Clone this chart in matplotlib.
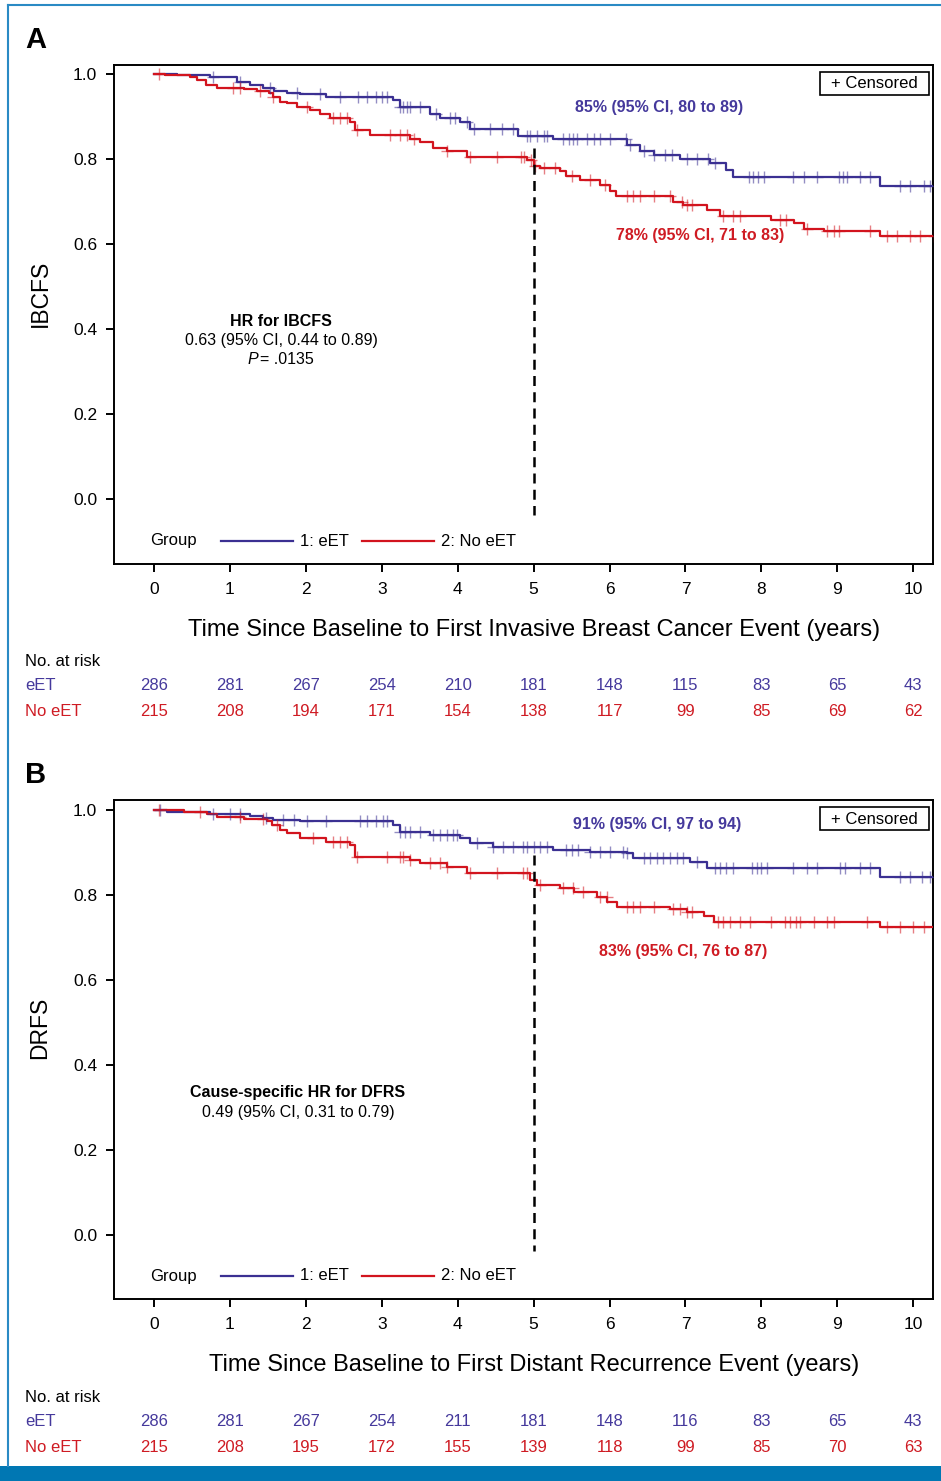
import numpy as np
import matplotlib
matplotlib.use("Agg")
import matplotlib.pyplot as plt
from matplotlib.lines import Line2D
from matplotlib.patches import Rectangle
from matplotlib.transforms import blended_transform_factory

plt.rcParams['font.family'] = ['Liberation Sans', 'DejaVu Sans']

W, H = 941, 1481
BLUE = '#3b3092'
RED = '#d2141e'
BLUE_TXT = '#45399c'
RED_TXT = '#cf1b23'
FRAME = '#2a8ac4'

# ---- data: panel A (IBCFS) ----
years = list(range(11))
a_eet_t = [0, 0.30, 0.74, 1.09, 1.26, 1.44, 1.58, 1.75, 1.92, 2.27, 3.15, 3.24, 3.64, 3.77,
           4.03, 4.16, 4.80, 5.26, 6.23, 6.40, 6.58, 6.93, 7.32, 7.54, 7.63, 9.56, 10.3]
a_eet_s = [1.0, 0.997, 0.992, 0.982, 0.974, 0.966, 0.960, 0.956, 0.952, 0.945, 0.939, 0.922, 0.907, 0.896,
           0.888, 0.870, 0.855, 0.846, 0.833, 0.820, 0.809, 0.800, 0.790, 0.774, 0.757, 0.737, 0.737]
a_eet_cens = [0.78, 1.13, 1.53, 1.88, 2.19, 2.45, 2.69, 2.80, 2.93, 3.00, 3.07, 3.24, 3.28, 3.33, 3.37,
              3.50, 3.72, 3.90, 3.96, 4.12, 4.21, 4.43, 4.58, 4.73, 4.91, 4.95, 5.04, 5.13, 5.17, 5.39,
              5.46, 5.52, 5.57, 5.70, 5.79, 5.87, 6.01, 6.21, 6.27, 6.45, 6.58, 6.73, 6.82, 7.02, 7.15,
              7.30, 7.39, 7.83, 7.89, 7.96, 8.03, 8.42, 8.56, 8.73, 9.02, 9.08, 9.13, 9.30, 9.43, 9.83,
              9.96, 10.14, 10.22]
a_no_t = [0, 0.15, 0.47, 0.56, 0.69, 0.83, 1.18, 1.35, 1.51, 1.57, 1.66, 1.75, 1.88, 2.06, 2.19, 2.32,
          2.58, 2.65, 2.85, 3.37, 3.50, 3.68, 3.86, 4.12, 4.91, 5.00, 5.08, 5.35, 5.43, 5.61, 5.87,
          6.00, 6.09, 6.84, 6.97, 7.28, 7.46, 8.12, 8.43, 8.56, 8.82, 9.56, 10.3]
a_no_s = [1.0, 0.998, 0.994, 0.985, 0.974, 0.966, 0.964, 0.961, 0.955, 0.947, 0.935, 0.931, 0.923, 0.915,
          0.907, 0.896, 0.888, 0.868, 0.856, 0.848, 0.840, 0.827, 0.820, 0.805, 0.798, 0.784, 0.779,
          0.771, 0.759, 0.751, 0.739, 0.724, 0.712, 0.698, 0.692, 0.680, 0.666, 0.657, 0.649, 0.636,
          0.630, 0.618, 0.618]
a_no_cens = [0.06, 1.04, 1.13, 1.40, 1.57, 2.01, 2.36, 2.45, 2.54, 2.67, 3.11, 3.24, 3.33, 3.42, 3.86,
             4.16, 4.52, 4.84, 4.87, 4.96, 5.02, 5.13, 5.28, 5.50, 5.74, 5.94, 6.23, 6.31, 6.40, 6.58,
             6.80, 6.95, 7.02, 7.08, 7.50, 7.63, 7.72, 8.25, 8.33, 8.60, 8.86, 8.95, 9.02, 9.43, 9.65,
             9.78, 9.96, 10.09, 10.27]
a_risk_eet = [286, 281, 267, 254, 210, 181, 148, 115, 83, 65, 43]
a_risk_no = [215, 208, 194, 171, 154, 138, 117, 99, 85, 69, 62]

# ---- data: panel B (DRFS) ----
b_eet_t = [0, 0.17, 0.74, 1.26, 1.44, 1.57, 1.92, 3.15, 3.24, 3.64, 4.03, 4.16, 4.47, 5.26, 5.74,
           6.23, 6.31, 7.06, 7.28, 9.56, 10.3]
b_eet_s = [1.0, 0.996, 0.991, 0.986, 0.980, 0.976, 0.973, 0.965, 0.949, 0.941, 0.933, 0.922, 0.914,
           0.906, 0.902, 0.898, 0.886, 0.878, 0.863, 0.842, 0.842]
b_eet_cens = [0.08, 0.78, 1.00, 1.13, 1.48, 1.70, 1.84, 2.01, 2.27, 2.71, 2.80, 2.93, 3.02, 3.07, 3.24,
              3.31, 3.37, 3.50, 3.68, 3.77, 3.86, 3.94, 3.99, 4.25, 4.47, 4.60, 4.73, 4.86, 4.91, 5.00,
              5.08, 5.17, 5.42, 5.50, 5.59, 5.74, 5.87, 6.01, 6.18, 6.23, 6.45, 6.53, 6.62, 6.71, 6.80,
              6.89, 6.97, 7.15, 7.39, 7.46, 7.54, 7.63, 7.87, 7.94, 8.00, 8.07, 8.42, 8.60, 8.73, 9.04,
              9.10, 9.30, 9.43, 9.83, 9.96, 10.11, 10.22]
b_no_t = [0, 0.40, 0.70, 0.83, 1.18, 1.49, 1.55, 1.66, 1.75, 1.92, 2.27, 2.58, 2.65, 3.37, 3.50, 3.86,
          4.12, 4.95, 5.04, 5.35, 5.53, 5.83, 5.97, 6.10, 6.80, 7.02, 7.24, 7.37, 9.56, 10.3]
b_no_s = [1.0, 0.996, 0.991, 0.983, 0.978, 0.973, 0.965, 0.953, 0.945, 0.933, 0.925, 0.918, 0.890,
          0.882, 0.875, 0.865, 0.851, 0.835, 0.8235, 0.816, 0.808, 0.796, 0.784, 0.772, 0.768, 0.761,
          0.750, 0.737, 0.725, 0.725]
b_no_cens = [0.06, 0.61, 1.13, 1.44, 1.62, 2.10, 2.36, 2.45, 2.54, 2.67, 3.07, 3.24, 3.28, 3.37, 3.64,
             3.77, 3.86, 4.16, 4.52, 4.86, 4.91, 5.08, 5.39, 5.52, 5.65, 5.87, 5.96, 6.23, 6.31, 6.40,
             6.58, 6.84, 6.93, 7.02, 7.08, 7.43, 7.50, 7.59, 7.72, 7.85, 8.12, 8.31, 8.38, 8.45, 8.51,
             8.69, 8.86, 8.95, 9.39, 9.65, 9.83, 10.00, 10.14]
b_risk_eet = [286, 281, 267, 254, 211, 181, 148, 116, 83, 65, 43]
b_risk_no = [215, 208, 195, 172, 155, 139, 118, 99, 85, 70, 63]


def fx(x):
    return x / W


def fy(y):
    return 1 - y / H


fig = plt.figure(figsize=(W / 100, H / 100), dpi=100)


def km(ax, t, s, cens, color):
    t = np.asarray(t)
    s = np.asarray(s)
    ax.step(t, s, where='post', color=color, lw=1.6, zorder=3, clip_on=True)
    idx = np.searchsorted(t, cens, side='right') - 1
    ax.plot(cens, s[idx], ls='none', marker='+', ms=8.5, mew=1.0, color=color,
            alpha=0.55, zorder=4)


def panel(top, letter, ylab, xlab, curves, ylim, dash_top, risk, yoff):
    ax = fig.add_axes([fx(114), fy(top + 499), (933 - 114) / W, 499 / H])
    ax.set_xlim(-0.527, 10.26)
    ax.set_ylim(*ylim)
    for t, s, c, col in curves:
        km(ax, t, s, c, col)
    ax.plot([5, 5], [dash_top, -0.037], color='black', lw=1.8, ls=(0, (4, 2.5)), zorder=5)
    ax.set_xticks(years)
    ax.set_yticks([0, 0.2, 0.4, 0.6, 0.8, 1.0])
    ax.set_yticklabels(['0.0', '0.2', '0.4', '0.6', '0.8', '1.0'])
    ax.tick_params(labelsize=12.5, length=6, width=1.4, direction='out')
    ax.tick_params(axis='y', pad=6)
    ax.tick_params(axis='x', pad=7)
    for sp in ax.spines.values():
        sp.set_linewidth(1.4)

    # panel letter and labels
    fig.text(fx(25), fy(top - 25), letter, fontsize=21, fontweight='bold', va='center', ha='left')
    fig.text(fx(40), fy(top + 228), ylab, fontsize=16.5, rotation=90, va='center', ha='center')
    fig.text(fx(534), fy(top + 565), xlab, fontsize=17, va='center', ha='center')

    # legend row
    ly = fy(top + 476)
    fig.text(fx(150), ly, 'Group', fontsize=12, va='center', ha='left')
    fig.add_artist(Line2D([fx(221), fx(293)], [ly, ly], color=BLUE, lw=1.6))
    fig.text(fx(300), ly, '1: eET', fontsize=12, va='center', ha='left')
    fig.add_artist(Line2D([fx(362), fx(434)], [ly, ly], color=RED, lw=1.6))
    fig.text(fx(441), ly, '2: No eET', fontsize=12, va='center', ha='left')

    # censored box
    fig.add_artist(Rectangle((fx(820), fy(top + 30)), (929 - 820) / W, 23 / H,
                             transform=fig.transFigure, fc='white', ec='black', lw=1.2, zorder=6))
    fig.text(fx(874), fy(top + 19), '+ Censored', fontsize=12, va='center', ha='center', zorder=7)

    # number at risk
    tr = blended_transform_factory(ax.transData, fig.transFigure)
    fig.text(fx(25), fy(top + 596 + yoff), 'No. at risk', fontsize=12, va='center', ha='left')
    fig.text(fx(25), fy(top + 621 + yoff), 'eET', fontsize=12, color=BLUE_TXT, va='center', ha='left')
    fig.text(fx(25), fy(top + 646 + yoff), 'No eET', fontsize=12, color=RED_TXT, va='center', ha='left')
    for yr, n1, n2 in zip(years, risk[0], risk[1]):
        ax.text(yr, fy(top + 621 + yoff), str(n1), transform=tr, fontsize=12, color=BLUE_TXT,
                ha='center', va='center')
        ax.text(yr, fy(top + 646 + yoff), str(n2), transform=tr, fontsize=12, color=RED_TXT,
                ha='center', va='center')
    return ax


axA = panel(65, 'A', 'IBCFS', 'Time Since Baseline to First Invasive Breast Cancer Event (years)',
            [(a_eet_t, a_eet_s, a_eet_cens, BLUE), (a_no_t, a_no_s, a_no_cens, RED)],
            (-0.1529, 1.0212), 0.825, (a_risk_eet, a_risk_no), 0)
axA.text(6.65, 0.922, '85% (95% CI, 80 to 89)', color=BLUE_TXT, fontsize=11.5, fontweight='bold',
         ha='center', va='center')
axA.text(7.19, 0.619, '78% (95% CI, 71 to 83)', color=RED_TXT, fontsize=11.5, fontweight='bold',
         ha='center', va='center')
fig.text(fx(281), fy(321), 'HR for IBCFS', fontsize=11.5, fontweight='bold', ha='center', va='center')
fig.text(fx(281), fy(340), '0.63 (95% CI, 0.44 to 0.89)', fontsize=11.5, ha='center', va='center')
fig.text(fx(258), fy(360), 'P', fontsize=11.5, style='italic', ha='right', va='center')
fig.text(fx(260), fy(360), '= .0135', fontsize=11.5, ha='left', va='center')

axB = panel(800, 'B', 'DRFS', 'Time Since Baseline to First Distant Recurrence Event (years)',
            [(b_eet_t, b_eet_s, b_eet_cens, BLUE), (b_no_t, b_no_s, b_no_cens, RED)],
            (-0.1506, 1.0235), 0.894, (b_risk_eet, b_risk_no), 1)
axB.text(6.63, 0.965, '91% (95% CI, 97 to 94)', color=BLUE_TXT, fontsize=11.5, fontweight='bold',
         ha='center', va='center')
axB.text(6.97, 0.668, '83% (95% CI, 76 to 87)', color=RED_TXT, fontsize=11.5, fontweight='bold',
         ha='center', va='center')
fig.text(fx(298), fy(1093), 'Cause-specific HR for DFRS', fontsize=11.5, fontweight='bold',
         ha='center', va='center')
fig.text(fx(298), fy(1112), '0.49 (95% CI, 0.31 to 0.79)', fontsize=11.5, ha='center', va='center')

# outer frame and bottom band
fig.add_artist(Line2D([fx(8), fx(8)], [fy(1466), fy(5)], color=FRAME, lw=1.5))
fig.add_artist(Line2D([fx(8), 1], [fy(5), fy(5)], color=FRAME, lw=1.5))
fig.add_artist(Rectangle((0, 0), 1, fy(1466), transform=fig.transFigure, color='#0077b3', lw=0))

fig.savefig('out.png', dpi=100)
